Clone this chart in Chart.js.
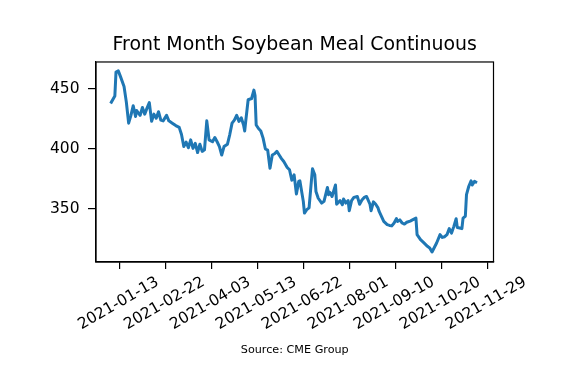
<!DOCTYPE html>
<html><head><meta charset="utf-8">
<script src="https://cdn.jsdelivr.net/npm/chart.js@4/dist/chart.umd.min.js"></script>
<style>html,body{margin:0;padding:0;background:#fff}canvas{display:block}</style>
</head><body>
<canvas id="c" width="568" height="370"></canvas>
<script>
const dates = ['2021-01-06','2021-01-09','2021-01-10','2021-01-12','2021-01-14','2021-01-17','2021-01-19','2021-01-21','2021-01-23','2021-01-25',
'2021-01-27','2021-01-28','2021-01-31','2021-02-02','2021-02-04','2021-02-06','2021-02-08','2021-02-10','2021-02-12','2021-02-14',
'2021-02-16','2021-02-18','2021-02-20','2021-02-23','2021-02-25','2021-02-28','2021-03-03','2021-03-06','2021-03-08','2021-03-10',
'2021-03-12','2021-03-14','2021-03-16','2021-03-18','2021-03-20','2021-03-22','2021-03-24','2021-03-26','2021-03-28','2021-03-30',
'2021-04-01','2021-04-04','2021-04-06','2021-04-08','2021-04-10','2021-04-12','2021-04-14','2021-04-17','2021-04-19','2021-04-21',
'2021-04-23','2021-04-25','2021-04-27','2021-04-29','2021-05-01','2021-05-02','2021-05-03','2021-05-05','2021-05-08','2021-05-10',
'2021-05-11','2021-05-12','2021-05-14','2021-05-16','2021-05-18','2021-05-20','2021-05-22','2021-05-24','2021-05-26','2021-05-28',
'2021-05-30','2021-06-01','2021-06-03','2021-06-05','2021-06-08','2021-06-10','2021-06-12','2021-06-14','2021-06-16','2021-06-18',
'2021-06-19','2021-06-22','2021-06-23','2021-06-25','2021-06-27','2021-06-29','2021-06-30','2021-07-02','2021-07-03','2021-07-05',
'2021-07-08','2021-07-10','2021-07-13','2021-07-14','2021-07-15','2021-07-17','2021-07-20','2021-07-21','2021-07-24','2021-07-26',
'2021-07-27','2021-07-29','2021-07-31','2021-08-01','2021-08-03','2021-08-05','2021-08-08','2021-08-10','2021-08-12','2021-08-14',
'2021-08-16','2021-08-19','2021-08-20','2021-08-22','2021-08-24','2021-08-26','2021-08-27','2021-08-29','2021-08-31','2021-09-03',
'2021-09-05','2021-09-07','2021-09-09','2021-09-11','2021-09-12','2021-09-14','2021-09-16','2021-09-18','2021-09-20','2021-09-23',
'2021-09-25','2021-09-28','2021-09-29','2021-10-02','2021-10-05','2021-10-08','2021-10-10','2021-10-12','2021-10-14','2021-10-16',
'2021-10-19','2021-10-21','2021-10-23','2021-10-25','2021-10-27','2021-10-29','2021-10-31','2021-11-02','2021-11-03','2021-11-06',
'2021-11-07','2021-11-08','2021-11-10','2021-11-11','2021-11-13','2021-11-15','2021-11-16','2021-11-18','2021-11-19'];

const prices = [439,444,464,465,460,452,439,421.5,428,436,
427,432,428,434.5,429,434,438.6,423,429,425.6,
431,424,423.4,428,423.4,421.5,419.5,418,412,402,
405.7,401,407.6,400.5,404.7,397,404,398,399.3,423.4,
407.6,406,409.5,406,402,395,402,404,412,421.5,
424,428,423,426,420,415,424,441,442,449,
444.4,420,417,415,409,400,399,384,395,396,
398,395,392,389.6,384.6,382.7,374,378.5,362.5,373,
373.5,356.4,346.7,349.5,351,373,383.5,378.5,364.7,359,
355,356.4,368,362,364,360.5,370,354,357,353.6,
358.4,355,357,348.6,357,359.7,360.5,354,357.5,359.7,
360.5,354,348.6,356,354,351,348,344,339.7,337,
336.4,336,338.4,342,339.7,341,338.4,337.5,339,340,
341,342.5,328.7,324.5,321.8,319,317.6,314.3,318,321.8,
328.7,326.4,327,328.7,333.7,330,335.6,342,334.6,334,
333.7,342.5,344,362,369,373.5,370,373,372.5];

const xTickLabels = ['2021-01-13','2021-02-22','2021-04-03','2021-05-13','2021-06-22','2021-08-01','2021-09-10','2021-10-20','2021-11-29'];
const yTickValues = [350, 400, 450];
const titleText = 'Front Month Soybean Meal Continuous';
const sourceText = 'Source: CME Group';

const DAY = 86400000;
const toMs = s => Date.parse(s + 'T00:00:00Z');
const anchor = toMs('2021-01-13');
const FONT = 'DejaVu Sans';

const frame = {
  id: 'frame',
  afterDraw(chart) {
    const {ctx, chartArea: a, scales: {x}} = chart;
    ctx.save();
    ctx.strokeStyle = '#000';
    ctx.lineWidth = 1.2;
    ctx.strokeRect(a.left, a.top, a.right - a.left, a.bottom - a.top);
    ctx.fillStyle = '#000';
    ctx.font = '15.5px "' + FONT + '"';
    ctx.textAlign = 'center';
    ctx.textBaseline = 'middle';
    xTickLabels.forEach(lbl => {
      const px = x.getPixelForValue(toMs(lbl));
      ctx.save();
      ctx.translate(px - 1, 303.5);
      ctx.rotate(-Math.PI / 6);
      ctx.fillText(lbl, 0, 0);
      ctx.restore();
    });
    ctx.restore();
  }
};

new Chart(document.getElementById('c'), {
  type: 'line',
  data: {
    datasets: [{
      data: dates.map((d, i) => ({x: toMs(d), y: prices[i]})),
      borderColor: '#1f77b4',
      borderWidth: 3,
      pointRadius: 0,
      tension: 0,
      fill: false,
      borderJoinStyle: 'round',
      borderCapStyle: 'square'
    }]
  },
  options: {
    responsive: false,
    animation: false,
    devicePixelRatio: 1,
    layout: {padding: {left: 0, right: 74.5, top: 0, bottom: 0}},
    plugins: {
      legend: {display: false},
      tooltip: {enabled: false},
      title: {
        display: true, text: titleText, fullSize: false, color: '#000',
        font: {family: FONT, size: 18.9, weight: 'normal'},
        padding: {top: 33.5, bottom: 5.8}
      },
      subtitle: {
        display: true, text: sourceText, position: 'bottom', fullSize: false, color: '#000',
        font: {family: FONT, size: 11.2, weight: 'normal'},
        padding: {top: 0, bottom: 13.4}
      }
    },
    scales: {
      x: {
        type: 'linear',
        min: anchor - 20.4 * DAY,
        max: anchor + 325.5 * DAY,
        afterBuildTicks: s => { s.ticks = xTickLabels.map(l => ({value: toMs(l)})); },
        afterFit: s => { s.height = 81.1; },
        ticks: {display: false},
        grid: {drawOnChartArea: false, drawTicks: true, tickLength: 7, color: '#000', lineWidth: 1.2},
        border: {display: true, color: '#000', width: 1.2}
      },
      y: {
        type: 'linear',
        min: 305.9,
        max: 472.4,
        afterBuildTicks: s => { s.ticks = yTickValues.map(v => ({value: v})); },
        afterFit: s => { s.width = 96; },
        ticks: {color: '#000', padding: 8.5, font: {family: FONT, size: 15.5}},
        grid: {drawOnChartArea: false, drawTicks: true, tickLength: 8, color: '#000', lineWidth: 1.2},
        border: {display: true, color: '#000', width: 1.2}
      }
    }
  },
  plugins: [frame]
});
</script>
</body></html>
